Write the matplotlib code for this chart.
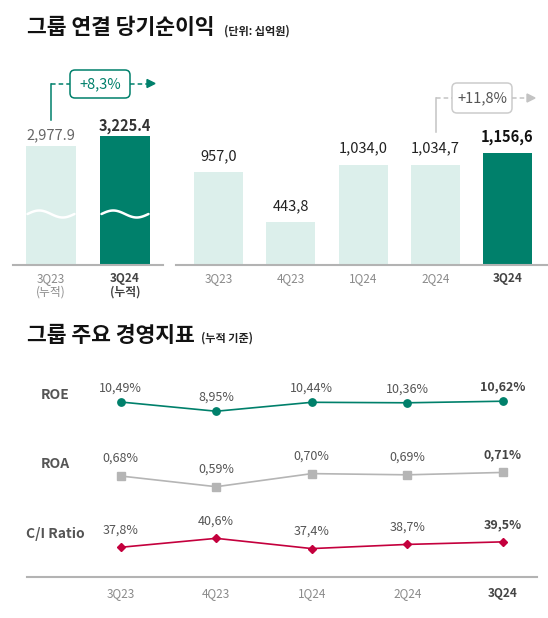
import numpy as np
import matplotlib
matplotlib.use('Agg')
import matplotlib.pyplot as plt
from matplotlib.patches import FancyBboxPatch, Polygon

# data
cum_labels = ['3Q23\n(누적)', '3Q24\n(누적)']
cum_income = [2977.9, 3225.4]
quarters = ['3Q23', '4Q23', '1Q24', '2Q24', '3Q24']
qtr_income = [957.0, 443.8, 1034.0, 1034.7, 1156.6]
roe = [10.49, 8.95, 10.44, 10.36, 10.62]
roa = [0.68, 0.59, 0.70, 0.69, 0.71]
ci_ratio = [37.8, 40.6, 37.4, 38.7, 39.5]
row_names = ['ROE', 'ROA', 'C/I Ratio']

plt.rcParams['font.family'] = ['Noto Sans CJK KR', 'DejaVu Sans']

W, H = 548, 618
TEAL = '#00806b'
MINT = '#dcefeb'
GREY = '#b5b5b5'
RED = '#c4003d'
AXIS = '#b3b3b3'

fig = plt.figure(figsize=(W / 100, H / 100), dpi=100)


def px_axes(x0, y0, x1, y1):
    ax = fig.add_axes([x0 / W, 1 - y1 / H, (x1 - x0) / W, (y1 - y0) / H])
    ax.patch.set_alpha(0)
    for s in ['top', 'left', 'right']:
        ax.spines[s].set_visible(False)
    ax.spines['bottom'].set_color(AXIS)
    ax.spines['bottom'].set_linewidth(1.5)
    ax.set_yticks([])
    return ax


def style_ticks(ax, labels, pad):
    ax.set_xticks(np.arange(len(labels)), labels)
    ax.tick_params(axis='x', length=0, pad=pad, labelsize=8.5, labelcolor='#8a8a8a')
    for t in ax.get_xticklabels():
        t.set_linespacing(1.1)
    last = ax.get_xticklabels()[-1]
    last.set_fontweight('bold')
    last.set_color('#444444')


# overlay in pixel coordinates for titles / annotations
ov = fig.add_axes([0, 0, 1, 1], zorder=5)
ov.set_xlim(0, W)
ov.set_ylim(H, 0)
ov.axis('off')
ov.patch.set_alpha(0)

ov.text(27, 27, '그룹 연결 당기순이익', fontsize=15.5, fontweight='heavy', va='center', color='#111111')
ov.text(224, 31, '(단위: 십억원)', fontsize=8, fontweight='bold', va='center', color='#222222')
ov.text(27, 335, '그룹 주요 경영지표', fontsize=15.5, fontweight='heavy', va='center', color='#111111')
ov.text(201, 338, '(누적 기준)', fontsize=8, fontweight='bold', va='center', color='#222222')

# ---- cumulative net income (broken bars)
axL = px_axes(13, 60, 163, 265)
posL = np.arange(len(cum_income))
axL.set_xlim(-(51 - 13) / 74, 1 + (163 - 125) / 74)
axL.set_ylim(0, (265 - 60) * 25)
wL = 50 / 74
axL.bar(posL, cum_income, width=wL, color=[MINT, TEAL])
style_ticks(axL, cum_labels, 5)
for i, v in enumerate(cum_income):
    bold = i == len(cum_income) - 1
    axL.annotate(f'{v:,.1f}', (i, v), xytext=(0, 7.5), textcoords='offset points',
                 ha='center', va='center', fontsize=10.5,
                 fontweight='bold' if bold else 'normal',
                 color='#333333' if bold else '#666666')
    # break mark
    t = np.linspace(0, 1, 60)
    xs = i - wL * 0.47 + t * wL * 0.94
    ys = (265 - (214 - 3.5 * np.sin(2 * np.pi * t))) * 25
    axL.plot(xs, ys, color='white', lw=1.8, solid_capstyle='round')

# ---- quarterly net income
axR = px_axes(176, 60, 547, 265)
posR = np.arange(len(qtr_income))
axR.set_xlim(-(218.5 - 176) / 72.25, 4 + (547 - 507.5) / 72.25)
axR.set_ylim(0, (265 - 60) * 10.3)
axR.bar(posR, qtr_income, width=49 / 72.25, color=[MINT] * 4 + [TEAL])
style_ticks(axR, quarters, 5)
for i, v in enumerate(qtr_income):
    bold = i == len(qtr_income) - 1
    axR.annotate(f'{v:,.1f}'[::-1].replace('.', ',', 1)[::-1], (i, v), xytext=(0, 11.5),
                 textcoords='offset points', ha='center', va='center', fontsize=10.5,
                 fontweight='bold' if bold else 'normal',
                 color='#111111' if bold else '#222222')

# growth call-outs
g_cum = (cum_income[1] / cum_income[0] - 1) * 100
g_qtr = (qtr_income[-1] / qtr_income[-2] - 1) * 100
dash = (0, (3, 2))

ov.plot([50.7, 50.7], [120, 83.5], color=TEAL, lw=1.1)
ov.plot([50.7, 70], [83.5, 83.5], color=TEAL, lw=1.1, ls=dash)
ov.add_patch(FancyBboxPatch((70, 70), 60, 28, boxstyle='round,pad=0,rounding_size=5',
                            fc='white', ec=TEAL, lw=1.1))
ov.text(100, 84, f'+{g_cum:.1f}%'.replace('.', ','), ha='center', va='center',
        fontsize=10.5, fontweight='medium', color=TEAL)
ov.plot([130, 148], [83.5, 83.5], color=TEAL, lw=1.1, ls=dash)
ov.add_patch(Polygon([(147, 79.5), (155, 83.5), (147, 87.5)], closed=True, color=TEAL))

GA = '#c3c3c3'
ov.plot([436, 436], [132, 98], color=GA, lw=1.1)
ov.plot([436, 452], [98, 98], color=GA, lw=1.1, ls=dash)
ov.add_patch(FancyBboxPatch((452, 83), 60, 30, boxstyle='round,pad=0,rounding_size=5',
                            fc='white', ec='#cccccc', lw=1.1))
ov.text(482, 98, f'+{g_qtr:.1f}%'.replace('.', ','), ha='center', va='center',
        fontsize=10.5, fontweight='medium', color='#555555')
ov.plot([512, 528], [98, 98], color=GA, lw=1.1, ls=dash)
ov.add_patch(Polygon([(527, 94), (535, 98), (527, 102)], closed=True, color=GA))

# ---- key indicators
xlim_line = (-(120.6 - 27) / 95.6, 4 + (537 - 503) / 95.6)
rows = [
    (roe, (365, 430), (10.49 - 28 / 6.0, 10.49 + 37 / 6.0), TEAL, 'o', 5.3, 10, '{:.2f}%'),
    (roa, (440, 510), (0.68 - 34 / 119, 0.68 + 36 / 119), GREY, 's', 5.5, 12.5, '{:.2f}%'),
    (ci_ratio, (510, 577), (37.8 - 29.7 / 3.2, 37.8 + 37.3 / 3.2), RED, 'D', 4.5, 12.5, '{:.1f}%'),
]
for k, (vals, (y0, y1), ylim, col, mk, ms, off, fmt) in enumerate(rows):
    ax = px_axes(27, y0, 537, y1)
    ax.set_xlim(*xlim_line)
    ax.set_ylim(*ylim)
    x = np.arange(len(vals))
    ax.plot(x, vals, color=col, lw=1.2, marker=mk, markersize=ms, clip_on=False)
    for i, v in enumerate(vals):
        bold = i == len(vals) - 1
        ax.annotate(fmt.format(v).replace('.', ','), (i, v), xytext=(0, off),
                    textcoords='offset points', ha='center', va='center', fontsize=9,
                    fontweight='bold' if bold else 'normal',
                    color='#444444' if bold else '#555555')
    if k == len(rows) - 1:
        style_ticks(ax, quarters, 7)
    else:
        ax.spines['bottom'].set_visible(False)
        ax.set_xticks([])

for name, y in zip(row_names, [395, 464, 534]):
    ov.text(55.5, y, name, ha='center', va='center', fontsize=10, fontweight='bold',
            color='#555555')

fig.savefig('out.png', dpi=100, facecolor='white')
